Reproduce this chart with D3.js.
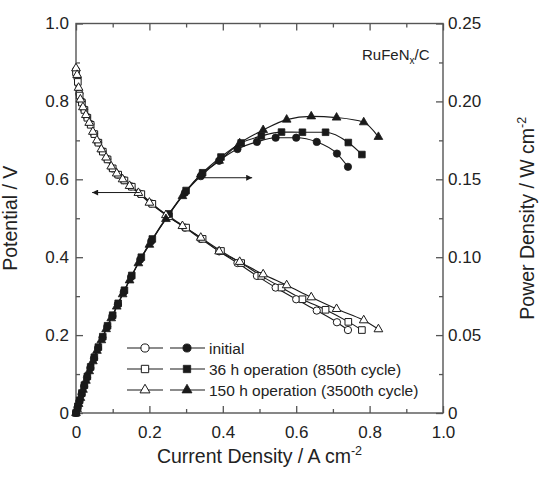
<!DOCTYPE html>
<html><head><meta charset="utf-8">
<script src="https://cdn.jsdelivr.net/npm/d3@7"></script>
<style>
html,body{margin:0;padding:0;background:#fff;}
svg{display:block;font-family:"Liberation Sans",Arial,Helvetica,sans-serif;}
</style></head>
<body>
<svg id="chart" width="554" height="477"></svg>
<script>
// ---- data ----
const seriesNames = ["initial", "36 h operation (850th cycle)", "150 h operation (3500th cycle)"];
const jInitial = [0,0.004,0.009,0.015,0.022,0.030,0.039,0.049,0.060,0.072,0.085,0.099,0.114,0.130,0.150,0.175,0.205,0.250,0.297,0.340,0.390,0.440,0.493,0.544,0.600,0.656,0.711,0.741];
const vInitial = [0.88,0.86,0.82,0.80,0.78,0.76,0.742,0.717,0.695,0.672,0.652,0.628,0.612,0.598,0.582,0.563,0.538,0.505,0.476,0.447,0.415,0.385,0.352,0.322,0.292,0.263,0.233,0.213];
const pInitial = [0,0.0034,0.0074,0.012,0.0172,0.0228,0.0289,0.0351,0.0417,0.0484,0.0554,0.0622,0.0698,0.0777,0.0873,0.0985,0.1103,0.1263,0.1414,0.152,0.1619,0.1694,0.174,0.1767,0.1767,0.174,0.1665,0.158];

const j36h = [0,0.005,0.010,0.016,0.023,0.031,0.040,0.050,0.061,0.073,0.086,0.100,0.115,0.132,0.152,0.178,0.208,0.253,0.300,0.345,0.395,0.450,0.505,0.560,0.617,0.680,0.742,0.779];
const v36h = [0.875,0.85,0.815,0.797,0.778,0.758,0.74,0.716,0.694,0.671,0.651,0.628,0.612,0.597,0.581,0.562,0.537,0.505,0.476,0.447,0.416,0.385,0.352,0.322,0.292,0.265,0.234,0.213];
const p36h = [0,0.0043,0.0082,0.0128,0.0179,0.0235,0.0296,0.0358,0.0423,0.049,0.056,0.0628,0.0704,0.0788,0.0883,0.1,0.1117,0.1278,0.1428,0.1542,0.1643,0.1733,0.1778,0.1803,0.1802,0.1802,0.1736,0.1659];

const j150h = [0,0.003,0.007,0.012,0.019,0.027,0.036,0.046,0.057,0.069,0.082,0.096,0.111,0.127,0.146,0.170,0.200,0.245,0.290,0.340,0.390,0.446,0.510,0.574,0.641,0.710,0.784,0.824];
const v150h = [0.885,0.868,0.835,0.805,0.785,0.765,0.745,0.722,0.70,0.677,0.656,0.633,0.615,0.60,0.583,0.565,0.54,0.508,0.48,0.45,0.415,0.388,0.356,0.328,0.297,0.267,0.238,0.215];
const p150h = [0,0.0026,0.0058,0.0097,0.0149,0.0207,0.0268,0.0332,0.0399,0.0467,0.0538,0.0608,0.0683,0.0762,0.0851,0.0961,0.108,0.1245,0.1392,0.153,0.1619,0.1731,0.1816,0.1883,0.1904,0.1896,0.1866,0.1772];

const xTicks = [0,0.2,0.4,0.6,0.8,1.0];
const xTickLabels = ["0","0.2","0.4","0.6","0.8","1.0"];
const yLeftTicks = [0,0.2,0.4,0.6,0.8,1.0];
const yLeftTickLabels = ["0","0.2","0.4","0.6","0.8","1.0"];
const yRightTicks = [0,0.05,0.10,0.15,0.20,0.25];
const yRightTickLabels = ["0","0.05","0.10","0.15","0.20","0.25"];
// annotation arrows in data units: [x0, x1, y]
const arrowPotential = [0.174, 0.044, 0.566];
const arrowPower = [0.346, 0.480, 0.151];

// ---- layout ----
const svg = d3.select("#chart");
const mLeft = 76, mRight = 443, mTop = 23.5, mBottom = 413;
const x = d3.scaleLinear().domain([0,1]).range([mLeft,mRight]);
const yL = d3.scaleLinear().domain([0,1]).range([mBottom,mTop]);
const yR = d3.scaleLinear().domain([0,0.25]).range([mBottom,mTop]);
const ink = "#1a1a1a", axisColor = "#555", textColor = "#222";

svg.append("defs").append("marker").attr("id","ah").attr("viewBox","0 0 10 10")
  .attr("refX",10).attr("refY",5).attr("markerWidth",9).attr("markerHeight",6)
  .attr("markerUnits","userSpaceOnUse").attr("orient","auto")
  .append("path").attr("d","M0,0L10,5L0,10z").attr("fill",ink);

function styleAxis(g){
  g.select(".domain").remove();
  g.selectAll(".tick line").attr("stroke",axisColor).attr("stroke-width",1.3);
  g.selectAll("text").attr("fill",textColor).style("font-size","17px");
}
const minorX = [0.1,0.3,0.5,0.7,0.9];
const minorYL = [0.1,0.3,0.5,0.7,0.9];
const minorYR = [0.025,0.075,0.125,0.175,0.225];

svg.append("g").attr("transform",`translate(0,${mBottom})`)
  .call(d3.axisBottom(x).tickValues(xTicks).tickFormat((d,i)=>xTickLabels[i]).tickSizeInner(-7).tickSizeOuter(0).tickPadding(13))
  .call(styleAxis);
svg.append("g").attr("transform",`translate(0,${mBottom})`)
  .call(d3.axisBottom(x).tickValues(minorX).tickFormat("").tickSizeInner(-4).tickSizeOuter(0)).call(styleAxis);
svg.append("g").attr("transform",`translate(0,${mTop})`)
  .call(d3.axisTop(x).tickValues(xTicks).tickFormat("").tickSizeInner(-7).tickSizeOuter(0)).call(styleAxis);
svg.append("g").attr("transform",`translate(0,${mTop})`)
  .call(d3.axisTop(x).tickValues(minorX).tickFormat("").tickSizeInner(-4).tickSizeOuter(0)).call(styleAxis);

svg.append("g").attr("transform",`translate(${mLeft},0)`)
  .call(d3.axisLeft(yL).tickValues(yLeftTicks).tickFormat((d,i)=>yLeftTickLabels[i]).tickSizeInner(-7).tickSizeOuter(0).tickPadding(7))
  .call(styleAxis);
svg.append("g").attr("transform",`translate(${mLeft},0)`)
  .call(d3.axisLeft(yL).tickValues(minorYL).tickFormat("").tickSizeInner(-4).tickSizeOuter(0)).call(styleAxis);
svg.append("g").attr("transform",`translate(${mRight},0)`)
  .call(d3.axisRight(yR).tickValues(yRightTicks).tickFormat((d,i)=>yRightTickLabels[i]).tickSizeInner(-7).tickSizeOuter(0).tickPadding(5))
  .call(styleAxis);
svg.append("g").attr("transform",`translate(${mRight},0)`)
  .call(d3.axisRight(yR).tickValues(minorYR).tickFormat("").tickSizeInner(-4).tickSizeOuter(0)).call(styleAxis);

svg.append("rect").attr("x",mLeft).attr("y",mTop).attr("width",mRight-mLeft).attr("height",mBottom-mTop)
  .attr("fill","none").attr("stroke",axisColor).attr("stroke-width",1.4);

// axis titles
svg.append("text").attr("transform",`translate(17,${(mTop+mBottom)/2}) rotate(-90)`)
  .attr("text-anchor","middle").attr("fill",textColor).style("font-size","19.5px").text("Potential / V");
const tr = svg.append("text").attr("transform",`translate(534,${(mTop+mBottom)/2}) rotate(-90)`)
  .attr("text-anchor","middle").attr("fill",textColor).style("font-size","19.5px");
tr.append("tspan").text("Power Density / W cm");
tr.append("tspan").attr("dy",-8).style("font-size","12.5px").text("-2");
const tb = svg.append("text").attr("x",(mLeft+mRight)/2).attr("y",463)
  .attr("text-anchor","middle").attr("fill",textColor).style("font-size","19.5px");
tb.append("tspan").text("Current Density / A cm");
tb.append("tspan").attr("dy",-8).style("font-size","12.5px").text("-2");

const lab = svg.append("text").attr("x",362).attr("y",60).attr("fill",textColor).style("font-size","15px");
lab.append("tspan").text("RuFeN");
lab.append("tspan").attr("dy",4).style("font-size","10px").text("x");
lab.append("tspan").attr("dy",-4).text("/C");

// series
const symbols = [d3.symbolCircle, d3.symbolSquare, d3.symbolTriangle];
const symSizes = [42, 44, 33];
const series = [
  {j:jInitial, v:vInitial, p:pInitial},
  {j:j36h, v:v36h, p:p36h},
  {j:j150h, v:v150h, p:p150h}
];
const lineV = d3.line().x(d=>x(d[0])).y(d=>yL(d[1])).curve(d3.curveMonotoneX);
const lineP = d3.line().x(d=>x(d[0])).y(d=>yR(d[1])).curve(d3.curveMonotoneX);

series.forEach((s)=>{
  const pv = s.j.map((j,i)=>[j,s.v[i]]);
  const pp = s.j.map((j,i)=>[j,s.p[i]]);
  svg.append("path").attr("d",lineV(pv)).attr("fill","none").attr("stroke",ink).attr("stroke-width",1.1);
  svg.append("path").attr("d",lineP(pp)).attr("fill","none").attr("stroke",ink).attr("stroke-width",1.1);
});
series.forEach((s,k)=>{
  const sym = d3.symbol().type(symbols[k]).size(symSizes[k]);
  svg.append("g").selectAll("path").data(s.j.map((j,i)=>[j,s.v[i]])).join("path")
    .attr("transform",d=>`translate(${x(d[0])},${yL(d[1])})`).attr("d",sym)
    .attr("fill","#fff").attr("stroke",ink).attr("stroke-width",1);
  svg.append("g").selectAll("path").data(s.j.map((j,i)=>[j,s.p[i]])).join("path")
    .attr("transform",d=>`translate(${x(d[0])},${yR(d[1])})`).attr("d",sym)
    .attr("fill",ink).attr("stroke",ink).attr("stroke-width",0.8);
});

// arrows
svg.append("line").attr("x1",x(arrowPotential[0])).attr("x2",x(arrowPotential[1]))
  .attr("y1",yL(arrowPotential[2])).attr("y2",yL(arrowPotential[2]))
  .attr("stroke",ink).attr("stroke-width",1).attr("marker-end","url(#ah)");
svg.append("line").attr("x1",x(arrowPower[0])).attr("x2",x(arrowPower[1]))
  .attr("y1",yR(arrowPower[2])).attr("y2",yR(arrowPower[2]))
  .attr("stroke",ink).attr("stroke-width",1).attr("marker-end","url(#ah)");

// legend
const legY0 = 348, legDy = 21;
seriesNames.forEach((name,k)=>{
  const yy = legY0 + k*legDy;
  const g = svg.append("g");
  const sym = d3.symbol().type(symbols[k]).size(symSizes[k]+10);
  g.append("line").attr("x1",127).attr("x2",163).attr("y1",yy).attr("y2",yy).attr("stroke",ink).attr("stroke-width",1.1);
  g.append("path").attr("transform",`translate(145,${yy})`).attr("d",sym).attr("fill","#fff").attr("stroke",ink).attr("stroke-width",1);
  g.append("line").attr("x1",170).attr("x2",205).attr("y1",yy).attr("y2",yy).attr("stroke",ink).attr("stroke-width",1.1);
  g.append("path").attr("transform",`translate(187,${yy})`).attr("d",sym).attr("fill",ink).attr("stroke",ink).attr("stroke-width",0.8);
  g.append("text").attr("x",209).attr("y",yy).attr("dy","0.36em").attr("fill",textColor).style("font-size","15.5px").text(name);
});
</script>
</body></html>
